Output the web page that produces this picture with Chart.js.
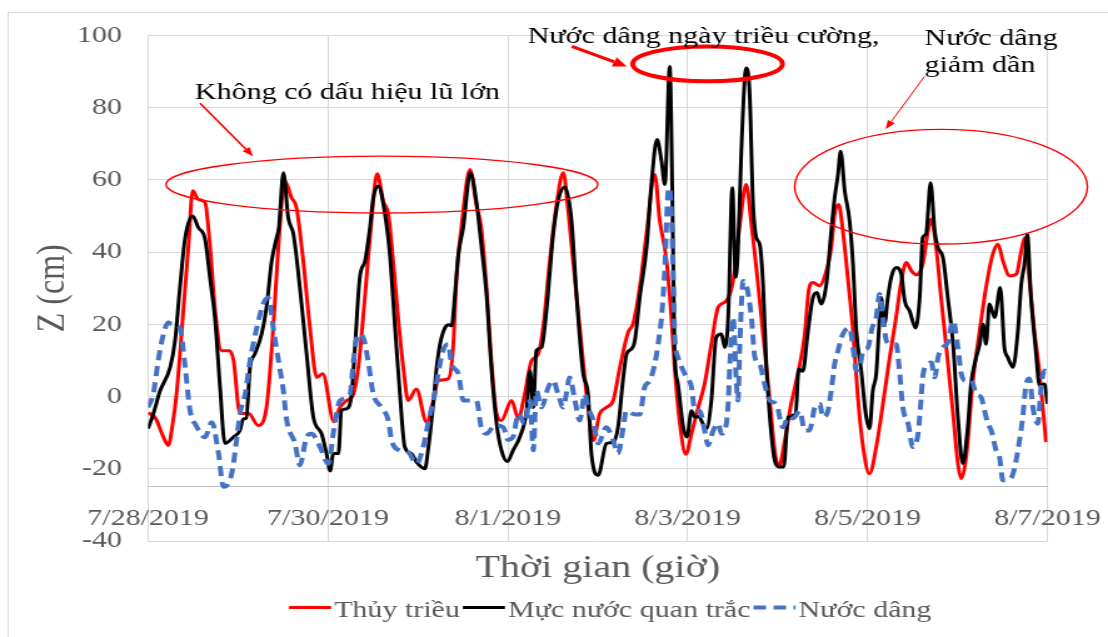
<!DOCTYPE html>
<html>
<head>
<meta charset="utf-8">
<script src="https://cdn.jsdelivr.net/npm/chart.js@4.4.1/dist/chart.umd.min.js"></script>
<style>
html,body{margin:0;padding:0;background:#ffffff;overflow:hidden}
</style>
</head>
<body>
<canvas id="c" width="886" height="637" style="display:block;width:1108px;height:637px"></canvas>
<script>
// ---------- DATA (hours since 7/28/2019 00:00, values in cm) ----------
const dateLabels = ['7/28/2019', '7/30/2019', '8/1/2019', '8/3/2019', '8/5/2019', '8/7/2019'];
const seriesNames = ['Thủy triều', 'Mực nước quan trắc', 'Nước dâng'];

const tideHours = [0,2,4,5.4,6.5,7.6,9.4,10.8,11.9,13.4,15.2,16.5,17.9,19.6,21.7,22.8,24.5,26.8,29.4,31.6,33.4,34.8,36.5,38.3,39.6,41.4,43.2,45,46.6,49.6,51.2,53,54.8,56.1,57,58.3,59.6,61.1,62.8,64.1,65.4,66.8,68.1,69.4,71.6,74.3,76.1,77.4,80.1,81.4,82.3,83.6,85.9,87.6,88.9,90.3,91.6,93,94.3,97,98.8,100.5,102.3,104.1,105.4,107.2,109,110.8,112.1,113.4,115.2,117,118.8,120.5,122.3,124.1,125.9,128.1,129.4,131.2,133,135.2,136.5,138.3,139.6,140.5,141.9,143.5,145,146.8,148.5,150.3,152.1,154.3,156.1,157.9,159.6,161,162.3,164.1,165.9,167.2,168.3,169.9,171.6,173.4,175.2,176.3,177.4,179.2,181,182.3,183.2,184.3,185.4,186.8,188.1,189.4,190.8,192.5,194.3,196.1,197.9,199.6,201,202.3,203.7,205,206.7,208.1,209,210.3,211.6,213,214.8,216.1,217,218.3,220.1,221.9,223.6,225.4,226.8,228.1,229.9,231.7,233,233.9,235.2,236.5,237.9,239.6];
const tideValues = [-4.5,-6,-11,-13.5,-8,0.8,23.7,42,57,54.6,53.7,42,23.7,12.7,12.7,10,-4.7,-4.7,-8,-3,19,42,59.7,55,52.3,37.6,19,5.3,6.3,-7,-3,-1.1,0.7,8.1,17.3,33,48.6,61.7,54,50.5,37.6,21,8.1,-1.1,2.1,-7.1,-1.1,4.4,4.9,13.6,33,46.8,62.9,53.2,46.8,30.2,9.9,-4.8,-6.6,-1.1,-6,0.7,9.9,11.8,19,37.6,53.2,62,51.4,37.6,19,0.7,-12.2,-4.8,-3,-1.1,8.1,17.8,20.1,30.2,45,61.5,49,38,22.5,8.1,-7.5,-16,-10.3,-3,3.5,14.5,24.7,26.5,32,47.7,58.7,47.7,35.7,17.3,-1.1,-14.9,-19.5,-12.2,-2,6.3,17,29.5,31.6,30.7,34.8,41.2,50.5,53.2,45.8,32,18.2,-0.2,-14,-21.4,-14,-2,10.9,21.9,32,37.1,34.8,33.7,36.6,45.8,49.1,41.2,27.4,13.6,-4.8,-18.6,-22.7,-16.8,4.4,18.2,30.2,39.4,42.2,37.6,33.4,33.9,40.3,44,32,18.2,6.3,-12.6];

const observedHours = [0,1.4,3.2,5.9,7.2,8.5,9.9,11.9,13.4,15.2,16.5,17.9,19.2,20.5,22.8,24.5,25.4,26.2,27.2,28.5,30.3,31.6,33,34.3,34.9,36.1,37.4,38.8,40.5,42.3,44.1,46.3,47.6,48.6,49.4,50.8,51.6,53,54.3,55.2,56.5,57.9,59.2,60.1,61.4,63.2,64.5,65.9,67.2,68.5,70.3,71.6,73.9,74.7,76.1,77,77.9,79.2,80.3,81,81.9,82.8,84.1,86,87.6,88.9,90.3,91.6,93,94.3,95.9,97.4,99.2,101,101.9,102.8,103.6,105,106.3,108.1,109.4,111.2,113,114.3,116.1,117.4,118.3,120.1,122.3,124.1,125.4,126.8,127.7,129,129.9,131.2,133,134.3,135.8,137,137.9,139.2,140.1,140.5,141.4,142.8,143.8,145,145.9,146.8,149,150.3,151.6,153,153.9,154.8,155.9,156.8,157.4,158.3,159.6,160.5,161.4,162.3,163.2,164.1,165,165.9,167.2,168.5,169.6,170.8,172.8,173.6,174.7,176.1,177.4,178.5,179.6,181,182.3,183.2,184.1,184.8,185.9,187.2,188.1,189,190.3,191.5,192.5,193.4,194.3,195,195.6,196.5,197.4,198.3,199.6,201,201.9,203.2,204.8,205.9,206.7,207.6,208.8,209.9,210.8,212.1,213.4,214.8,216.1,217.4,218.8,219.6,221,221.9,222.8,223.6,224.5,225.9,227.4,228.5,229.4,230.8,232.1,233,233.9,234.6,235.6,236.8,237.9,239.2,240];
const observedValues = [-8.9,-4.8,1.6,8.1,15.5,30.2,44,50,46.8,43.6,33,21,2.6,-13,-11.2,-9.4,-6.2,-6,8.1,11.8,17.3,24.7,37.6,44,46.8,62,49.5,44.9,30.2,11.8,-5.7,-10.3,-15.8,-20.6,-15.8,-15.8,-3.9,-3.4,0.7,13.6,33,37.6,46.8,55,58.3,50.5,39.4,19,0.7,-14,-15.8,-18.1,-20,-14.9,-2,8.1,14.5,19,19.9,19.6,28.4,39.4,46.8,62,54,42.2,28.4,8.1,-7.5,-14.9,-18,-14.9,-11.2,-3.9,7.2,-3,12.7,13.6,23.7,44.9,54.1,58,48.6,28.4,6.3,0.7,-15.8,-21.8,-13,-12.6,-8.5,5.3,11.8,13.2,15.5,27.5,41,58.7,71.2,65.2,58.7,91.4,40.3,12.7,3.5,-8.5,-11.2,-3.9,-5.7,-5.5,-8.9,-1.1,16.4,17.3,13.6,21.9,57.8,33,40.3,67.9,91,84.5,54.1,44,42.2,31.1,8.1,-5.7,-17.7,-19.5,-19.5,-5.7,-4.8,7.6,7,18.2,27.4,28.8,25.6,31.1,45.8,55,61.5,67.9,56.9,48.6,36.6,18.2,7.2,-4.8,-8.9,1.7,6.3,18.2,27.4,20,27.4,33,35.7,33.9,26.5,23.7,19,27.4,44,45,59.2,45.8,41.2,38.5,27.4,14.5,-5.7,-18.6,-7.5,3.5,10.9,14.5,20,14.5,25.6,21.9,30.2,13.6,10.9,8.1,18.2,31.1,37,44.9,27.4,13.6,3,3.5,-2];

const surgeHours = [0,1.4,2.7,4.1,5.4,6.3,8.5,9.9,11.2,12.8,15.2,17,18.8,20.1,22.3,23.6,24.5,25.9,27.2,29,30.7,32.1,33.4,34.8,36.1,37,39.2,40.5,42.3,43.6,45.9,48.1,49.6,51.2,53.9,54.8,56.1,57.4,58.7,60.1,62.3,64.1,65,67.2,69.4,71.6,73.4,74.7,76.5,77.4,78.7,80.1,81,82.8,84.1,87.6,88.9,90.3,92.5,94.8,96,97.4,98.8,100.5,101.9,102.8,103.6,105,106.8,108.1,109.4,110.8,111.6,112.5,113.9,115.2,116.5,117.4,118.8,120.1,122.3,124.1,125.4,126.8,127.6,129.4,131.2,132.5,133.9,135.2,136.1,137,137.9,138.7,139.2,139.6,140.1,140.5,141.4,143.2,145,145.9,147.2,148.5,149.4,150.8,152.1,153,153.9,154.8,155.2,156.1,157,157.4,157.9,158.8,159.6,161,161.9,163.2,164.5,165.9,167.6,169.4,170.8,172.1,173.9,175.2,176.5,177.9,179.2,180.1,181.4,182.3,183.2,184.1,185.4,187.2,188.1,189,189.9,190.8,192.1,193.2,194.3,195.2,196.1,197,198.3,199.6,200.5,201.4,202.8,204.1,205.5,206.3,206.7,208.1,209,209.9,210.8,212.1,213.4,214.8,216.1,217,218.3,219.6,221,222.3,223.2,224.1,225,226.3,227.2,228.1,229.4,230.8,232.1,233.4,234.3,235.2,236.1,237.4,238.3,239.2,240];
const surgeValues = [-3,0.8,9.9,17.3,20.5,20,19,8.1,-3.9,-8,-11.3,-7.1,-15.8,-25,-21.4,-12.2,-4.8,0.7,9.9,19,25.6,27.4,19,9.9,1.6,-6.6,-13,-19,-11.2,-10.3,-14,-18.6,-9,-1.1,0.7,9.9,17.3,16.4,9.9,0.7,-3,-6.6,-12.2,-14.9,-15.4,-18.6,-14,-7.5,0.7,6.3,12.7,14.5,9,6.3,-1.1,-1.1,-8.5,-10.3,-8,-8.5,-12,-11.2,-4.8,-7.5,-1.1,-14.9,1.6,-3,2.6,4.4,0.7,-3,0.7,5.3,-1.1,-6.6,0.7,-3,-6.6,-13,-8.5,-12.2,-15.8,-8.5,-3.9,-4.8,-5,2.6,4.4,9,14.5,21.9,35.7,56,57.8,52,35.7,17.3,10.9,6.3,2.6,-3.9,-3.9,-9.4,-13.5,-9.4,-7.5,-10.3,-9.4,-2,8,21.9,3.5,-1.1,14.5,32,31,21.9,10.9,9,3.5,-1.1,-2,-8.5,-5.7,-6,-4,-9.4,-9.4,-3,-2,-5.7,-4,1.7,9,12.7,17.3,19,13.6,7.2,8,12.7,13.6,19,21.9,28.4,22,15.5,14.5,14.5,7.2,-3,-7.5,-14,-10,-0.2,5.3,9,9.4,5.3,10.9,13.6,15,21,13.6,6.3,4.4,4.6,0.7,-0.2,-3.9,-7.5,-9.4,-14.9,-16.8,-23.2,-23.2,-21.4,-14.9,-5.7,3.5,5,-3,-7.5,2.6,7.2,7];

// ---------- ANNOTATIONS (anchored in data units) ----------
const noteTexts = [
  {text: 'Không có dấu hiệu lũ lớn', h: 12.5, v: 82.3},
  {text: 'Nước dâng ngày triều cường,', h: 101.3, v: 97.8},
  {text: 'Nước dâng', h: 207.2, v: 97.4},
  {text: 'giảm dần', h: 207.2, v: 89.8}
];
const noteEllipses = [
  {h: 62.4, v: 58.7, rh: 57.6, rv: 7.87, width: 1.4},
  {h: 149.3, v: 92.1, rh: 20, rv: 4.83, width: 4},
  {h: 211.6, v: 58.1, rh: 39.07, rv: 15.88, width: 1.4}
];
const noteArrows = [
  {h1: 13.87, v1: 81.19, h2: 28, v2: 66.55, width: 1.6, head: 9, half: 3.5},
  {h1: 113.07, v1: 96.93, h2: 127.73, v2: 91.41, width: 3, head: 11, half: 5},
  {h1: 207.2, v1: 88.66, h2: 196.8, v2: 74.0, width: 1, head: 9, half: 3.2}
];

const FONT = '"Liberation Serif", "Times New Roman", serif';
const GREY_TEXT = '#595959';
const seriesStyles = [
  {color: '#FF0000', width: 3, dash: []},
  {color: '#000000', width: 3, dash: []},
  {color: '#4472C4', width: 4, dash: [10, 6]}
];

function toPoints(hours, values) {
  return hours.map((h, i) => ({x: h, y: values[i]}));
}

const decorPlugin = {
  id: 'decor',
  afterDraw(chart) {
    const {ctx, scales} = chart;
    const xs = scales.x, ys = scales.y;
    ctx.save();
    // outer chart frame
    ctx.strokeStyle = '#D9D9D9';
    ctx.lineWidth = 1;
    ctx.strokeRect(6.5, 12.5, chart.width + 20, chart.height + 20);

    // ellipses
    ctx.strokeStyle = '#FF0000';
    noteEllipses.forEach(e => {
      const cx = xs.getPixelForValue(e.h), cy = ys.getPixelForValue(e.v);
      const rx = Math.abs(xs.getPixelForValue(e.h + e.rh) - cx);
      const ry = Math.abs(ys.getPixelForValue(e.v + e.rv) - cy);
      ctx.beginPath();
      ctx.lineWidth = e.width;
      ctx.ellipse(cx, cy, rx, ry, 0, 0, Math.PI * 2);
      ctx.stroke();
    });

    // arrows
    noteArrows.forEach(a => {
      const x1 = xs.getPixelForValue(a.h1), y1 = ys.getPixelForValue(a.v1);
      const x2 = xs.getPixelForValue(a.h2), y2 = ys.getPixelForValue(a.v2);
      const ang = Math.atan2(y2 - y1, x2 - x1);
      const bx = x2 - Math.cos(ang) * a.head, by = y2 - Math.sin(ang) * a.head;
      ctx.strokeStyle = '#FF0000';
      ctx.fillStyle = '#FF0000';
      ctx.lineWidth = a.width;
      ctx.beginPath();
      ctx.moveTo(x1, y1);
      ctx.lineTo(bx, by);
      ctx.stroke();
      ctx.beginPath();
      ctx.moveTo(x2, y2);
      ctx.lineTo(bx + Math.sin(ang) * a.half, by - Math.cos(ang) * a.half);
      ctx.lineTo(bx - Math.sin(ang) * a.half, by + Math.cos(ang) * a.half);
      ctx.closePath();
      ctx.fill();
    });

    // annotation texts
    ctx.fillStyle = '#000000';
    ctx.font = '24px ' + FONT;
    ctx.textAlign = 'left';
    ctx.textBaseline = 'alphabetic';
    noteTexts.forEach(t => {
      ctx.fillText(t.text, xs.getPixelForValue(t.h), ys.getPixelForValue(t.v));
    });

    // legend
    ctx.font = '24px ' + FONT;
    const seg = 33.6, gapIn = 2.4, gapOut = 2.4;
    const widths = seriesNames.map(n => seg + gapIn + ctx.measureText(n).width);
    const total = widths.reduce((a, b) => a + b, 0) + gapOut * (widths.length - 1);
    const ca = chart.chartArea;
    let lx = (ca.left + ca.right) / 2 + 10 - total / 2;
    const lineY = 607.5, textY = 617;
    seriesNames.forEach((n, i) => {
      const st = seriesStyles[i];
      ctx.beginPath();
      ctx.strokeStyle = st.color;
      ctx.lineWidth = st.width;
      ctx.setLineDash(st.dash);
      ctx.moveTo(lx, lineY);
      ctx.lineTo(lx + seg, lineY);
      ctx.stroke();
      ctx.setLineDash([]);
      ctx.fillStyle = GREY_TEXT;
      ctx.fillText(n, lx + seg + gapIn, textY);
      lx += widths[i] + gapOut;
    });
    ctx.restore();
  }
};

const datasets = [
  {label: seriesNames[0], data: toPoints(tideHours, tideValues), order: 3},
  {label: seriesNames[1], data: toPoints(observedHours, observedValues), order: 2},
  {label: seriesNames[2], data: toPoints(surgeHours, surgeValues), order: 1}
].map((d, i) => Object.assign(d, {
  borderColor: seriesStyles[i].color,
  backgroundColor: seriesStyles[i].color,
  borderWidth: seriesStyles[i].width,
  borderDash: seriesStyles[i].dash,
  pointRadius: 0,
  pointHoverRadius: 0,
  fill: false,
  cubicInterpolationMode: 'monotone'
}));

new Chart(document.getElementById('c'), {
  type: 'line',
  data: {datasets},
  options: {
    responsive: false,
    devicePixelRatio: 1,
    animation: false,
    events: [],
    layout: {padding: {left: 0, right: 48.4, top: 34, bottom: 96}},
    plugins: {legend: {display: false}, tooltip: {enabled: false}, title: {display: false}},
    scales: {
      x: {
        type: 'linear',
        min: 0,
        max: 240,
        position: {y: -25},
        afterFit: (s) => { s.paddingLeft = 0; s.paddingRight = 0; },
        grid: {color: '#D9D9D9', lineWidth: 1, drawTicks: false},
        border: {display: true, color: '#BFBFBF', width: 1},
        ticks: {
          stepSize: 48,
          autoSkip: false,
          maxRotation: 0,
          padding: 17,
          color: GREY_TEXT,
          font: {family: FONT, size: 24},
          callback: (v) => dateLabels[Math.round(v / 48)]
        },
        title: {display: true, text: 'Thời gian (giờ)', color: GREY_TEXT,
                font: {family: FONT, size: 32}, padding: {top: 0, bottom: 0}}
      },
      y: {
        min: -40,
        max: 100,
        position: 'left',
        afterFit: (s) => { s.width = 118.4; },
        grid: {color: '#D9D9D9', lineWidth: 1, drawTicks: false},
        border: {display: false},
        ticks: {stepSize: 20, padding: 21, color: GREY_TEXT, font: {family: FONT, size: 24}},
        title: {display: true, text: 'Z (cm)', color: GREY_TEXT,
                font: {family: FONT, size: 32}, padding: {top: 23, bottom: 0}}
      }
    }
  },
  plugins: [decorPlugin]
});
</script>
</body>
</html>
